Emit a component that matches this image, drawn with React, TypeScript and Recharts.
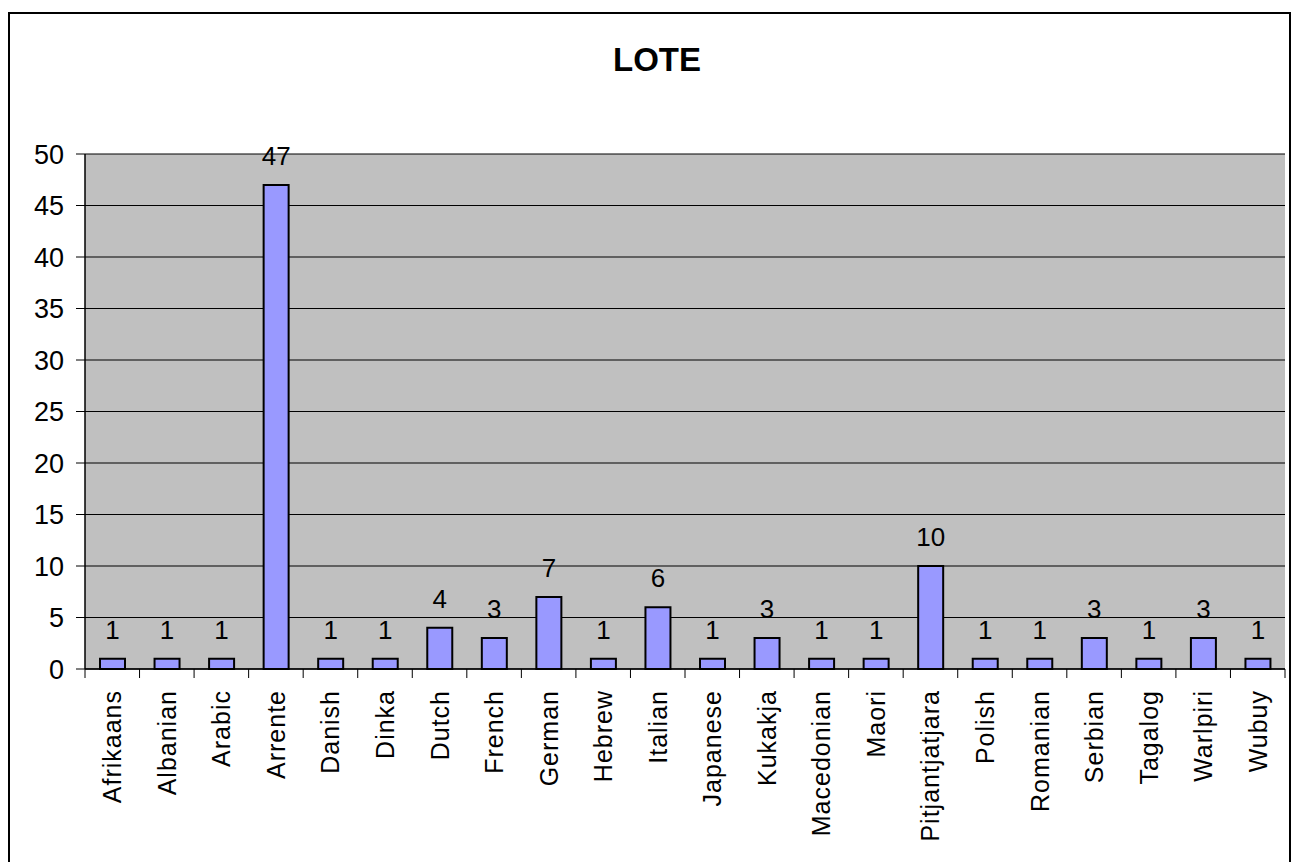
import { Bar, BarChart, CartesianGrid, LabelList, XAxis, YAxis } from "recharts";

const languages = [
  "Afrikaans", "Albanian", "Arabic", "Arrente", "Danish", "Dinka", "Dutch", "French",
  "German", "Hebrew", "Italian", "Japanese", "Kukakja", "Macedonian", "Maori",
  "Pitjantjatjara", "Polish", "Romanian", "Serbian", "Tagalog", "Warlpiri", "Wubuy",
];
const counts = [1, 1, 1, 47, 1, 1, 4, 3, 7, 1, 6, 1, 3, 1, 1, 10, 1, 1, 3, 1, 3, 1];
const yTicks = [0, 5, 10, 15, 20, 25, 30, 35, 40, 45, 50];

const data = languages.map((name, i) => ({ name, value: counts[i] }));

const FONT = "'Liberation Sans', Arial, sans-serif";
const W = 1293;
const H = 862;
const PLOT_LEFT = 85;
const PLOT_RIGHT = 1285;
const PLOT_TOP = 154;
const PLOT_BOTTOM = 669;
const band = (PLOT_RIGHT - PLOT_LEFT) / languages.length;

// label at the band centre, tick marks on the band edges like Excel
const CategoryTick = (props: any) => {
  const { x, y, payload, index } = props;
  const left = x - band / 2;
  return (
    <g>
      <line x1={left} y1={y} x2={left} y2={y + 9} stroke="#000" strokeWidth={1} />
      {index === languages.length - 1 && (
        <line x1={x + band / 2} y1={y} x2={x + band / 2} y2={y + 9} stroke="#000" strokeWidth={1} />
      )}
      <text
        x={x}
        y={y + 21}
        transform={`rotate(-90, ${x}, ${y + 21})`}
        textAnchor="end"
        dy="0.36em"
        fontSize={25}
        letterSpacing={1}
        fontFamily={FONT}
        fill="#000"
      >
        {payload.value}
      </text>
    </g>
  );
};

export default function App() {
  return (
    <div style={{ position: "absolute", left: 0, top: 0, width: W, height: H, background: "#fff", overflow: "hidden" }}>
      <div
        style={{
          position: "absolute",
          left: 8,
          top: 12,
          width: 1283,
          height: 870,
          border: "2px solid #000",
          boxSizing: "border-box",
        }}
      />
      <div
        style={{
          position: "absolute",
          left: 0,
          top: 40,
          width: 1314,
          textAlign: "center",
          fontFamily: FONT,
          fontWeight: "bold",
          fontSize: 33,
          lineHeight: "40px",
        }}
      >
        LOTE
      </div>
      <div style={{ position: "absolute", left: 0, top: 0 }}>
        <BarChart
          width={W}
          height={H}
          data={data}
          margin={{ top: PLOT_TOP, right: W - PLOT_RIGHT, bottom: 0, left: 0 }}
          barCategoryGap={0}
        >
          <CartesianGrid vertical={false} stroke="#000" fill="#C0C0C0" fillOpacity={1} />
          <XAxis
            dataKey="name"
            interval={0}
            height={H - PLOT_BOTTOM}
            axisLine={{ stroke: "#000", strokeWidth: 1.5 }}
            tickLine={false}
            tickSize={0}
            tickMargin={0}
            tick={<CategoryTick />}
          />
          <YAxis
            domain={[0, 50]}
            ticks={yTicks}
            interval={0}
            width={PLOT_LEFT}
            axisLine={{ stroke: "#000", strokeWidth: 1.5 }}
            tickLine={{ stroke: "#000" }}
            tickSize={9}
            tickMargin={12}
            tick={{ fontSize: 27, fill: "#000", fontFamily: FONT }}
          />
          <YAxis
            yAxisId="right"
            orientation="right"
            domain={[0, 50]}
            width={0}
            tick={false}
            tickLine={false}
            axisLine={{ stroke: "#808080" }}
          />
          <Bar
            dataKey="value"
            fill="#9999FF"
            stroke="#000"
            strokeWidth={2}
            barSize={25}
            isAnimationActive={false}
          >
            <LabelList
              dataKey="value"
              position="top"
              offset={20}
              style={{ fontSize: 26, fill: "#000", fontFamily: FONT }}
            />
          </Bar>
        </BarChart>
      </div>
    </div>
  );
}
